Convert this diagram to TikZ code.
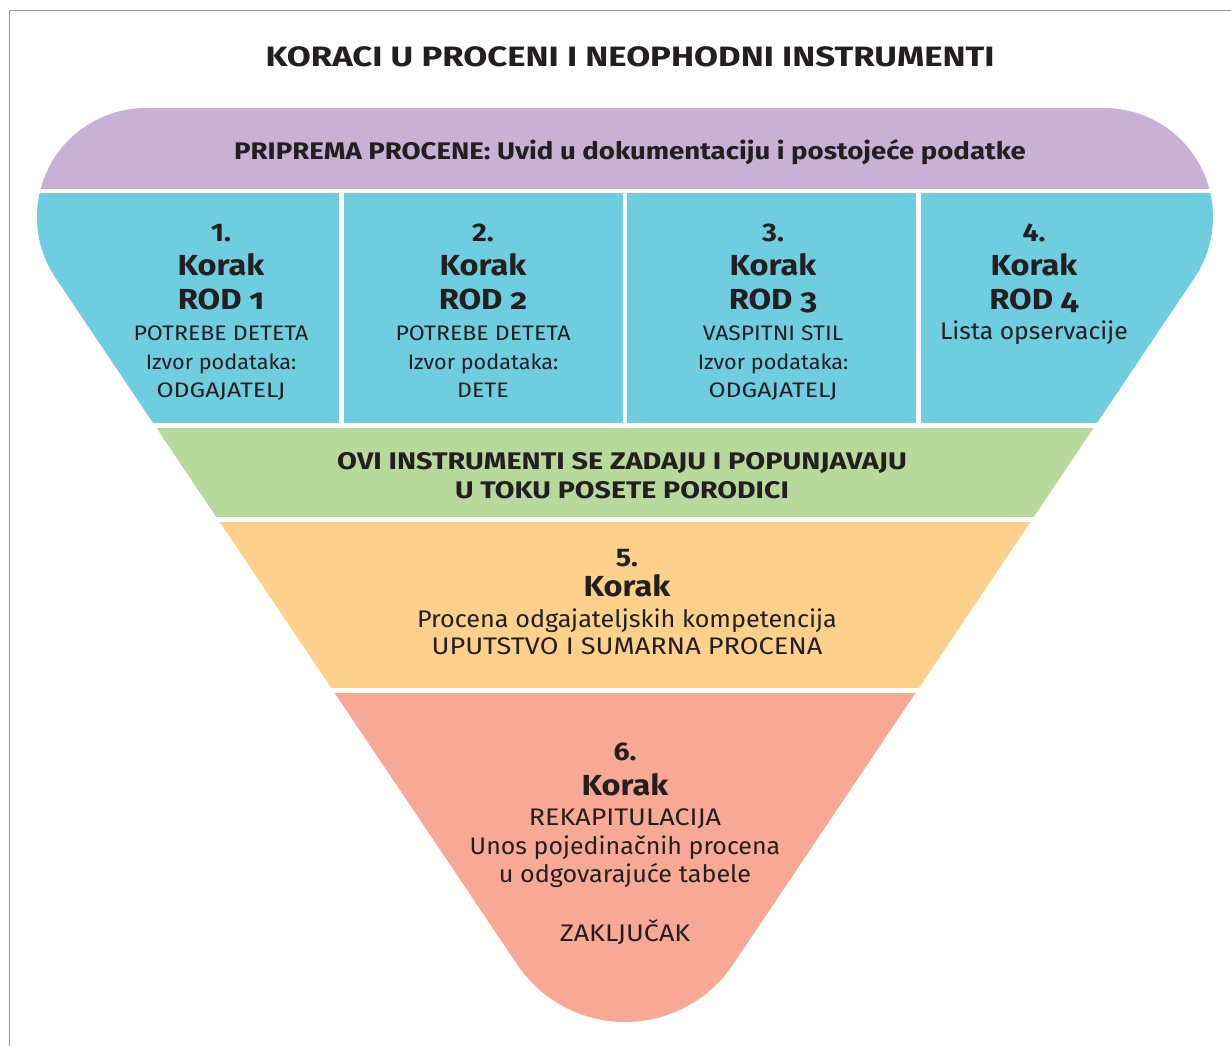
\documentclass[tikz,border=0pt]{standalone}
\usepackage{fontspec}
\setmainfont{Fira Sans}[Numbers=OldStyle]
\definecolor{framegray}{HTML}{9A9A9A}
\definecolor{txt}{HTML}{231F20}
\definecolor{cpurple}{HTML}{C8B1D5}
\definecolor{cblue}{HTML}{6FCDE0}
\definecolor{cgreen}{HTML}{B7DA9C}
\definecolor{corange}{HTML}{FDD08C}
\definecolor{cred}{HTML}{F7A996}
\newcommand\wid[2]{{\addfontfeature{FakeStretch=#1}#2}}
\tikzset{
  lbl/.style={anchor=base, inner sep=0pt, text=txt},
  ttl/.style={lbl, font=\bfseries\fontsize{28}{30}\selectfont},
  hdr/.style={lbl, font=\bfseries\fontsize{24}{26}\selectfont},
  num/.style={lbl, font=\bfseries\fontsize{25.5}{27}\selectfont\addfontfeature{Numbers=Lining,FakeStretch=1.12}},
  kor/.style={lbl, font=\bfseries\fontsize{29}{31}\selectfont},
  sml/.style={lbl, font=\fontsize{21}{23}\selectfont},
  body/.style={lbl, font=\fontsize{24}{26}\selectfont},
}
\begin{document}
\begin{tikzpicture}[x=1pt,y=-1pt]
\useasboundingbox (0,0) rectangle (1231,1046);
\fill[white] (0,0) rectangle (1231,1046);
\draw[framegray, line width=1.3pt] (9.5,1046) -- (9.5,10.5) -- (1231,10.5);
\begin{scope}
\clip (146,108) -- (1104,108) arc[start angle=-90, end angle=33.9, radius=109]
  -- (733,964.5) arc[start angle=33.9, end angle=146.1, radius=130]
  -- (55.5,277.8) arc[start angle=146.1, end angle=270, radius=109] -- cycle;
\fill[cpurple] (0,100) rectangle (1231,188.5);
\fill[cblue] (0,193) rectangle (1231,423);
\fill[cgreen] (0,428) rectangle (1231,517);
\fill[corange] (0,522) rectangle (1231,688);
\fill[cred] (0,692.5) rectangle (1231,1046);
\fill[white] (339.3,190) rectangle (343.5,425);
\fill[white] (622.5,190) rectangle (627,425);
\fill[white] (915.5,190) rectangle (920.5,425);
\end{scope}
% title and header
\node[ttl] (title) at (630,66.7) {\wid{1.24}{KORACI U PROCENI I NEOPHODNI INSTRUMENTI}};
\node[hdr] (prep) at (630,160) {\wid{1.15}{PRIPREMA PROCENE: Uvid u dokumentaciju i postojeće podatke}};
% column 1
\node[num] (c1n) at (221,241) {1.};
\node[kor] (c1k) at (221,275.7) {\wid{1.12}{Korak}};
\node[kor] (c1r) at (221,309) {\wid{1.13}{ROD 1}};
\node[sml] (c1a) at (221,340) {\wid{1.1}{POTREBE DETETA}};
\node[sml] (c1b) at (221,369) {\wid{1.03}{Izvor podataka:}};
\node[sml] (c1c) at (221,397.5) {\wid{1.18}{ODGAJATELJ}};
% column 2
\node[num] (c2n) at (483,241) {2.};
\node[kor] (c2k) at (483,275.7) {\wid{1.12}{Korak}};
\node[kor] (c2r) at (483,309) {\wid{1.13}{ROD 2}};
\node[sml] (c2a) at (483,340) {\wid{1.1}{POTREBE DETETA}};
\node[sml] (c2b) at (483,369) {\wid{1.03}{Izvor podataka:}};
\node[sml] (c2c) at (483,397.5) {\wid{1.1}{DETE}};
% column 3
\node[num] (c3n) at (773,241) {3.};
\node[kor] (c3k) at (773,275.7) {\wid{1.12}{Korak}};
\node[kor] (c3r) at (773,309) {\wid{1.13}{ROD 3}};
\node[sml] (c3a) at (773,340) {\wid{1.09}{VASPITNI STIL}};
\node[sml] (c3b) at (773,369) {\wid{1.03}{Izvor podataka:}};
\node[sml] (c3c) at (773,397.5) {\wid{1.18}{ODGAJATELJ}};
% column 4
\node[num] (c4n) at (1034,241) {4.};
\node[kor] (c4k) at (1034,275.7) {\wid{1.12}{Korak}};
\node[kor] (c4r) at (1034,309) {\wid{1.13}{ROD 4}};
\node[body] (c4a) at (1034,339.5) {\wid{1.03}{Lista opservacije}};
% green band
\node[hdr] (g1) at (622,469) {\wid{1.2}{OVI INSTRUMENTI SE ZADAJU I POPUNJAVAJU}};
\node[hdr] (g2) at (622,498) {\wid{1.19}{U TOKU POSETE PORODICI}};
% orange band
\node[num] (o1) at (627,566.7) {5.};
\node[kor] (o2) at (627,596) {\wid{1.12}{Korak}};
\node[body] (o3) at (627,627) {\wid{1.05}{Procena odgajateljskih kompetencija}};
\node[body] (o4) at (627,654) {\wid{1.13}{UPUTSTVO I SUMARNA PROCENA}};
% red band
\node[num] (r1) at (625,760) {6.};
\node[kor] (r2) at (625,795.5) {\wid{1.12}{Korak}};
\node[body] (r3) at (625,825) {\wid{1.12}{REKAPITULACIJA}};
\node[body] (r4) at (625,854) {\wid{1.04}{Unos pojedinačnih procena}};
\node[body] (r5) at (625,882.5) {\wid{1.05}{u odgovarajuće tabele}};
\node[body] (r6) at (625,941) {\wid{1.12}{ZAKLJUČAK}};
\end{tikzpicture}
\end{document}
